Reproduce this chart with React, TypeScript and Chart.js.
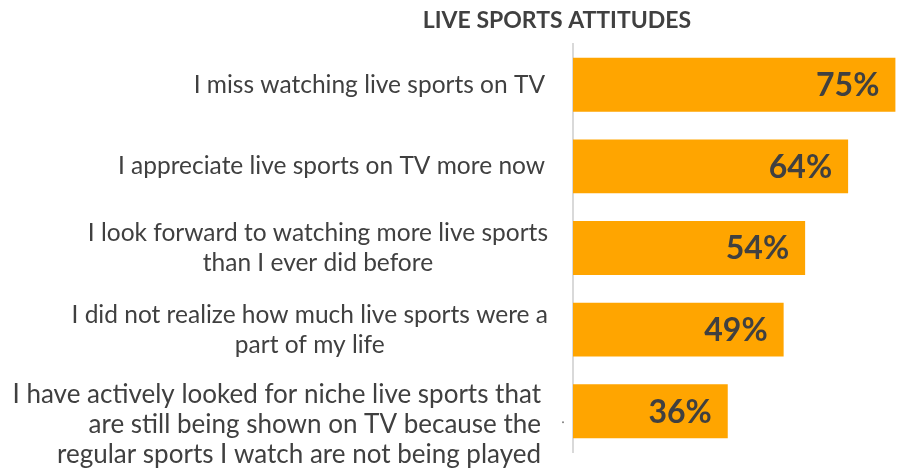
import { useEffect, useRef } from "react";
import { Chart, registerables } from "chart.js";

Chart.register(...registerables);

const TITLE = "LIVE SPORTS ATTITUDES";
const categories: string[][] = [
  ["I miss watching live sports on TV"],
  ["I appreciate live sports on TV more now"],
  ["I look forward to watching more live sports", "than I ever did before"],
  ["I did not realize how much live sports were a", "part of my life"],
  [
    "I have actively looked for niche live sports that",
    "are still being shown on TV because the",
    "regular sports I watch are not being played",
  ],
];
const values = [75, 64, 54, 49, 36];
const valueLabels = values.map((v) => `${v}%`);

const TEXT_COLOR = "#404040";
const BAR_COLOR = "#FFA500";
const FONT = "Lato, 'Open Sans', sans-serif";

const labelPlugin = {
  id: "customLabels",
  afterDatasetsDraw(chart: any) {
    const ctx = chart.ctx as CanvasRenderingContext2D;
    const meta = chart.getDatasetMeta(0);
    const yScale = chart.scales.y;
    const left = chart.chartArea.left;
    ctx.save();
    // title
    ctx.font = `bold 23px ${FONT}`;
    ctx.fillStyle = TEXT_COLOR;
    ctx.textAlign = "center";
    ctx.textBaseline = "middle";
    ctx.fillText(TITLE, left - 16, 21);
    // value labels
    ctx.font = `bold 32px ${FONT}`;
    ctx.textAlign = "right";
    meta.data.forEach((bar: any, i: number) => {
      ctx.fillText(valueLabels[i], bar.x - 16, bar.y + 1);
    });
    // category labels
    categories.forEach((lines, i) => {
      const y = yScale.getPixelForValue(i);
      const big = lines.length > 2;
      const size = big ? 26 : 24.5;
      const lh = 30;
      ctx.font = `${size}px ${FONT}`;
      ctx.fillStyle = TEXT_COLOR;
      const widths = lines.map((l) => ctx.measureText(l).width);
      const maxW = Math.max(...widths);
      const right = left - (big ? 32 : lines.length === 1 ? 28 : 25);
      const cy = y + (big ? 13 : 0);
      lines.forEach((line, j) => {
        const ly = cy + (j - (lines.length - 1) / 2) * lh;
        if (big) {
          ctx.textAlign = "right";
          ctx.fillText(line, right, ly);
        } else {
          ctx.textAlign = "center";
          ctx.fillText(line, right - maxW / 2, ly);
        }
      });
      if (big) {
        ctx.fillStyle = "#808080";
        ctx.beginPath();
        ctx.arc(left - 10, cy - 2, 1, 0, Math.PI * 2);
        ctx.fill();
      }
    });
    ctx.restore();
  },
};

export default function App() {
  const ref = useRef<HTMLCanvasElement | null>(null);
  useEffect(() => {
    if (!ref.current) return;
    const chart = new Chart(ref.current, {
      type: "bar",
      data: {
        labels: categories.map((c) => c.join(" ")),
        datasets: [
          {
            data: values,
            backgroundColor: BAR_COLOR,
            borderWidth: 0,
            categoryPercentage: 1,
            barPercentage: 0.66,
          },
        ],
      },
      options: {
        indexAxis: "y",
        animation: false,
        responsive: false,
        layout: { padding: { top: 44, bottom: 23, left: 0, right: 3 } },
        plugins: {
          legend: { display: false },
          title: { display: false },
          tooltip: { enabled: false },
        },
        scales: {
          x: { display: false, min: 0, max: 77 },
          y: {
            display: true,
            grid: { display: false, drawTicks: false },
            ticks: { display: false },
            border: { display: true, color: "#d9d9d9", width: 2 },
            afterFit: (scale: any) => {
              scale.width = 573;
            },
          },
        },
      },
      plugins: [labelPlugin],
    });
    return () => chart.destroy();
  }, []);
  return (
    <div style={{ position: "fixed", left: 0, top: 0, width: 907, height: 475, background: "#fff" }}>
      <canvas ref={ref} width={907} height={475} style={{ width: 907, height: 475 }} />
    </div>
  );
}
